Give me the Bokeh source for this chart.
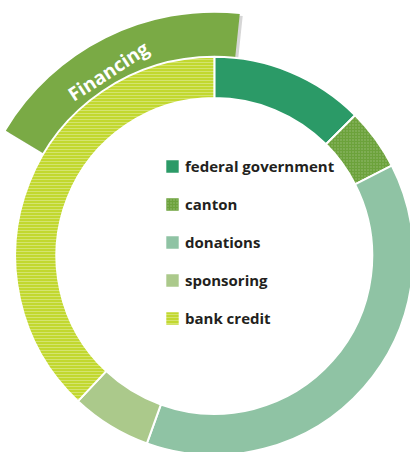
import math
from bokeh.plotting import figure
from bokeh.models import Range1d, Legend, LegendItem
from bokeh.core.properties import value
from bokeh.embed import file_html
from bokeh.resources import INLINE

# ---- data ----
categories = ["federal government", "canton", "donations", "sponsoring", "bank credit"]
shares = [12.5, 5.0, 38.0, 6.5, 38.0]
colors = ["#2b9a67", "#6ca23b", "#8fc3a4", "#abc98b", "#c2d82f"]
hatches = [None, "dot", None, None, "horizontal_line"]
title_label = "Financing"

# ---- layout constants ----
CX, CY = 218, 200
R_IN, R_OUT = 161, 203
BAND_OUT = 248

p = figure(width=410, height=452, output_backend="svg", toolbar_location=None,
           x_range=Range1d(0, 418), y_range=Range1d(0, 460), min_border=0)
p.axis.visible = False
p.grid.visible = False
p.outline_line_color = None
p.background_fill_color = "white"
p.border_fill_color = "white"

# Financing band (with soft shadow)
b_start = math.pi / 2 - math.radians(6)
b_end = math.pi / 2 + math.radians(59)
p.annular_wedge(x=CX + 3, y=CY - 2, inner_radius=R_OUT, outer_radius=BAND_OUT,
                start_angle=b_start, end_angle=b_end, fill_color="#8a8a8a",
                fill_alpha=0.35, line_color=None)
p.annular_wedge(x=CX, y=CY, inner_radius=R_OUT, outer_radius=BAND_OUT,
                start_angle=b_start, end_angle=b_end, fill_color="#7aaa45",
                line_color=None)

total = sum(shares)
cum = 0.0
items = []
for name, v, c, h in zip(categories, shares, colors, hatches):
    a0 = math.pi / 2 - 2 * math.pi * (cum + v) / total
    a1 = math.pi / 2 - 2 * math.pi * cum / total
    cum += v
    kw = {}
    if h:
        kw = dict(hatch_pattern=h, hatch_color="white", hatch_alpha=0.3,
                  hatch_scale=3, hatch_weight=1)
    r = p.annular_wedge(x=CX, y=CY, inner_radius=R_IN, outer_radius=R_OUT,
                        start_angle=a0, end_angle=a1, fill_color=c,
                        line_color="white", line_width=2, **kw)
    items.append(LegendItem(label=name, renderers=[r]))

# band label
p.text(x=[110], y=[388], text=[title_label], angle=math.radians(33),
       text_align="center", text_baseline="middle", text_color="white",
       text_font=value("Open Sans"), text_font_style="bold",
       text_font_size="19px")

legend = Legend(items=items, location=(163, 124), orientation="vertical",
                glyph_width=18, glyph_height=18, label_height=20,
                spacing=18, padding=0, margin=0, label_standoff=4,
                border_line_color=None, background_fill_alpha=0,
                label_text_font="Open Sans", label_text_font_style="bold",
                label_text_font_size="15px", label_text_color="#231f20")
p.add_layout(legend)

open("out.html", "w").write(file_html(p, INLINE))
